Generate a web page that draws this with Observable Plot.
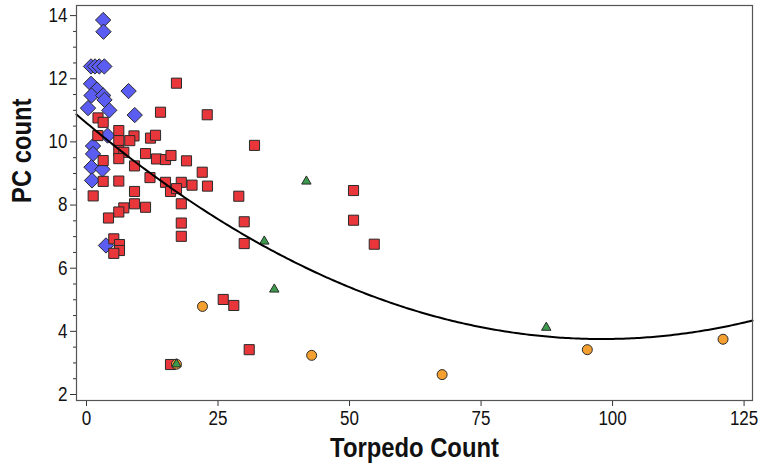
<!DOCTYPE html>
<html>
<head>
<meta charset="utf-8">
<script src="https://cdn.jsdelivr.net/npm/d3@7"></script>
<script src="https://cdn.jsdelivr.net/npm/@observablehq/plot@0.6"></script>
<style>
  html, body { margin: 0; padding: 0; background: #fff; }
</style>
</head>
<body>
<div id="chart"></div>
<script>
// ---- data (Torpedo Count, PC count) ----
const blueDiamonds = [
  [3.17,13.86],[3.23,13.49],[0.86,12.39],[1.62,12.39],[2.43,12.39],[3.39,12.39],
  [0.86,11.84],[2.0,11.66],[0.95,11.47],[3.17,11.47],[3.42,11.33],[0.29,11.07],
  [4.33,11.0],[8.0,11.61],[9.17,10.85],[4.0,10.2],[1.24,9.87],[1.24,9.62],
  [0.95,9.2],[3.04,9.13],[1.05,8.78],[3.7,6.72]
];
const redSquares = [
  [17.1,11.86],[14.07,10.94],[22.95,10.86],[31.94,9.89],[50.76,8.46],[50.76,7.52],
  [54.7,6.76],[28.95,8.28],[29.98,7.47],[29.98,6.78],[2.19,10.76],[3.17,10.62],
  [6.14,10.36],[9.03,10.19],[8.23,10.04],[12.17,10.12],[13.12,10.21],[6.14,10.04],
  [2.15,10.2],[6.14,9.73],[7.09,9.67],[3.17,9.41],[6.14,9.47],[11.22,9.63],
  [13.31,9.46],[15.02,9.44],[16.06,9.57],[19.01,9.4],[9.13,9.24],[22.0,9.04],
  [3.17,8.75],[6.14,8.76],[12.07,8.87],[15.02,8.72],[18.02,8.72],[20.06,8.63],
  [23.0,8.6],[15.97,8.43],[17.11,8.52],[18.02,8.04],[1.27,8.29],[9.13,8.43],
  [9.13,8.04],[11.22,7.93],[7.09,7.91],[6.14,7.78],[4.18,7.59],[18.02,7.43],
  [18.02,7.01],[5.19,6.93],[6.27,6.75],[6.27,6.56],[5.19,6.47],[25.99,5.01],
  [28.0,4.82],[30.93,3.42],[15.97,2.95]
];
const orangeCircles = [
  [22.05,4.79],[42.8,3.24],[67.6,2.63],[95.2,3.42],[121.0,3.75],[17.1,2.96]
];
const greenTriangles = [
  [41.8,8.75],[33.8,6.85],[35.7,5.33],[87.4,4.12],[17.1,2.96]
];
// quadratic fit line coefficients: y = c0 + c1*x + c2*x^2
const fitCoef = [10.6, -0.1397, 0.000713];

const xTicks = [0, 25, 50, 75, 100, 125];
const yTicks = [2, 4, 6, 8, 10, 12, 14];
const yMinorTicks = [2.5,3,3.5,4.5,5,5.5,6.5,7,7.5,8.5,9,9.5,10.5,11,11.5,12.5,13,13.5];
const xDomain = [-1.9, 126.6];
const yDomain = [1.81, 14.32];
const xTitle = "Torpedo Count";
const yTitle = "PC count";

const toObj = a => a.map(([x, y]) => ({x, y}));
const fitLine = d3.range(xDomain[0], xDomain[1] + 0.01, 0.5)
  .map(x => ({x, y: fitCoef[0] + fitCoef[1] * x + fitCoef[2] * x * x}));

const stroke = "#2a2a2a";

const chart = Plot.plot({
  width: 760,
  height: 475,
  marginLeft: 76,
  marginRight: 8,
  marginTop: 5,
  marginBottom: 75,
  style: {fontFamily: "'Liberation Sans', Arial, sans-serif", fontSize: "20px", color: "#111", background: "#fff"},
  x: {domain: xDomain, label: null},
  y: {domain: yDomain, label: null},
  marks: [
    Plot.axisX({ticks: xTicks, tickSize: 6, tickPadding: 4, label: null, stroke: "#333"}),
    Plot.axisY({ticks: yTicks, tickSize: 6, tickPadding: 3, label: null, stroke: "#333"}),
    Plot.axisY({ticks: yMinorTicks, tickSize: 3, tickFormat: () => "", label: null, stroke: "#333"}),
    Plot.dot(toObj(blueDiamonds), {x: "x", y: "y", symbol: "diamond2", r: 6.9, fill: "#5b5cf2", stroke, strokeWidth: 1}),
    Plot.dot(toObj(redSquares), {x: "x", y: "y", symbol: "square", r: 5.7, fill: "#e8363b", stroke, strokeWidth: 1}),
    Plot.dot(toObj(orangeCircles), {x: "x", y: "y", symbol: "circle", r: 5, fill: "#f4a030", stroke, strokeWidth: 1}),
    Plot.dot(toObj(greenTriangles), {x: "x", y: "y", symbol: "triangle", r: 3.5, fill: "#3b9a4c", stroke, strokeWidth: 1}),
    Plot.line(fitLine, {x: "x", y: "y", stroke: "#000", strokeWidth: 2}),
    Plot.frame({stroke: "#555", strokeWidth: 1.2}),
    Plot.text([xTitle], {frameAnchor: "bottom", dy: 56, fontSize: 28, fontWeight: "bold", fill: "#111"}),
    Plot.text([yTitle], {frameAnchor: "left", dx: -54, rotate: -90, fontSize: 28, fontWeight: "bold", fill: "#111"})
  ]
});
document.getElementById("chart").appendChild(chart);

// condense text horizontally to mimic the narrow font of the original
d3.select(chart).selectAll("text").each(function() {
  const len = this.getComputedTextLength();
  if (len > 0) {
    this.setAttribute("textLength", (len * 0.85).toFixed(1));
    this.setAttribute("lengthAdjust", "spacingAndGlyphs");
  }
});
</script>
</body>
</html>
